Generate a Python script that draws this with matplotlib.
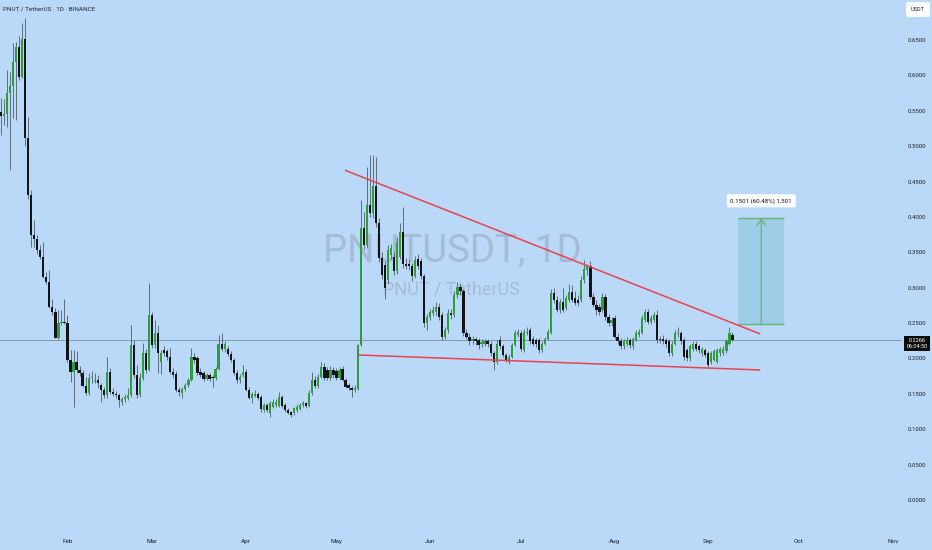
import matplotlib
matplotlib.use('Agg')
import matplotlib.pyplot as plt
import matplotlib.dates as mdates
from matplotlib.ticker import FormatStrFormatter
import numpy as np
import pandas as pd

plt.rcParams['font.family'] = ['Roboto', 'DejaVu Sans']

# ---------------- data ----------------
start_date = '2025-01-10'
opens = [0.548,0.542,0.545,0.575,0.585,0.619,0.640,0.598,0.652,0.512,
         0.431,0.374,0.369,0.353,0.343,0.315,0.308,0.273,0.266,0.229,
         0.250,0.252,0.250,0.198,0.181,0.195,0.184,0.180,0.161,0.151,
         0.172,0.168,0.170,0.162,0.155,0.148,0.181,0.152,0.150,0.148,
         0.138,0.142,0.144,0.148,0.219,0.177,0.148,0.173,0.208,0.184,
         0.261,0.219,0.236,0.195,0.212,0.210,0.202,0.181,0.178,0.155,
         0.151,0.157,0.163,0.170,0.202,0.200,0.181,0.179,0.171,0.176,
         0.174,0.172,0.185,0.220,0.213,0.214,0.206,0.198,0.180,0.170,
         0.176,0.181,0.156,0.144,0.147,0.150,0.146,0.127,0.134,0.123,
         0.132,0.134,0.133,0.146,0.134,0.127,0.124,0.123,0.127,0.129,
         0.134,0.137,0.133,0.151,0.170,0.161,0.174,0.188,0.184,0.172,
         0.184,0.182,0.172,0.185,0.170,0.162,0.158,0.156,0.157,0.219,
         0.384,0.360,0.417,0.405,0.443,0.391,0.342,0.332,0.311,0.346,
         0.344,0.323,0.344,0.379,0.334,0.334,0.330,0.316,0.341,0.337,
         0.316,0.250,0.259,0.264,0.266,0.273,0.261,0.231,0.240,0.264,
         0.261,0.290,0.301,0.295,0.236,0.231,0.224,0.227,0.226,0.220,
         0.220,0.224,0.221,0.207,0.195,0.226,0.217,0.205,0.195,0.202,
         0.219,0.233,0.236,0.212,0.236,0.240,0.228,0.226,0.226,0.212,
         0.221,0.228,0.236,0.292,0.283,0.268,0.280,0.271,0.283,0.294,
         0.285,0.283,0.283,0.311,0.325,0.330,0.287,0.276,0.272,0.268,
         0.287,0.259,0.250,0.257,0.231,0.224,0.217,0.221,0.226,0.217,
         0.226,0.233,0.236,0.254,0.266,0.252,0.254,0.261,0.228,0.228,
         0.226,0.224,0.207,0.221,0.234,0.236,0.226,0.212,0.200,0.214,
         0.221,0.217,0.207,0.212,0.207,0.195,0.198,0.195,0.207,0.208,
         0.210,0.221,0.233]
highs = [0.568,0.566,0.608,0.605,0.646,0.647,0.656,0.674,0.681,0.541,
         0.438,0.396,0.375,0.360,0.365,0.322,0.325,0.284,0.271,0.268,
         0.268,0.284,0.262,0.212,0.212,0.210,0.190,0.183,0.174,0.180,
         0.182,0.180,0.176,0.165,0.160,0.202,0.186,0.158,0.154,0.151,
         0.146,0.150,0.158,0.247,0.226,0.191,0.180,0.222,0.214,0.307,
         0.265,0.254,0.247,0.212,0.218,0.214,0.215,0.186,0.182,0.160,
         0.160,0.166,0.172,0.215,0.208,0.203,0.186,0.182,0.179,0.179,
         0.177,0.188,0.233,0.236,0.225,0.218,0.210,0.201,0.183,0.178,
         0.191,0.185,0.160,0.153,0.155,0.153,0.148,0.137,0.137,0.140,
         0.142,0.143,0.152,0.149,0.137,0.130,0.126,0.132,0.135,0.137,
         0.140,0.139,0.155,0.181,0.175,0.178,0.195,0.193,0.188,0.189,
         0.188,0.186,0.188,0.190,0.173,0.165,0.161,0.162,0.221,0.424,
         0.407,0.470,0.487,0.487,0.485,0.398,0.350,0.338,0.360,0.362,
         0.350,0.372,0.392,0.414,0.342,0.340,0.335,0.345,0.348,0.342,
         0.320,0.263,0.270,0.274,0.280,0.278,0.265,0.245,0.270,0.270,
         0.295,0.308,0.306,0.298,0.242,0.236,0.232,0.230,0.229,0.228,
         0.227,0.228,0.225,0.211,0.226,0.232,0.221,0.208,0.206,0.222,
         0.240,0.242,0.240,0.242,0.245,0.244,0.232,0.229,0.229,0.225,
         0.231,0.241,0.298,0.300,0.288,0.284,0.300,0.290,0.305,0.304,
         0.296,0.290,0.316,0.339,0.334,0.337,0.292,0.282,0.277,0.292,
         0.291,0.263,0.259,0.261,0.236,0.229,0.228,0.230,0.229,0.231,
         0.240,0.242,0.262,0.270,0.270,0.262,0.265,0.268,0.232,0.233,
         0.229,0.227,0.224,0.240,0.245,0.239,0.229,0.215,0.220,0.225,
         0.224,0.220,0.216,0.215,0.210,0.210,0.213,0.215,0.216,0.217,
         0.227,0.245,0.238]
lows = [0.516,0.530,0.527,0.466,0.540,0.537,0.593,0.596,0.500,0.425,
        0.357,0.357,0.347,0.340,0.313,0.305,0.271,0.262,0.229,0.228,
        0.247,0.248,0.195,0.167,0.131,0.180,0.175,0.160,0.148,0.148,
        0.165,0.165,0.158,0.138,0.144,0.144,0.150,0.147,0.144,0.131,
        0.134,0.139,0.141,0.146,0.173,0.144,0.146,0.170,0.180,0.182,
        0.215,0.215,0.180,0.178,0.204,0.198,0.178,0.173,0.152,0.147,
        0.144,0.154,0.160,0.168,0.194,0.177,0.174,0.168,0.169,0.168,
        0.160,0.170,0.183,0.210,0.209,0.204,0.195,0.177,0.166,0.166,
        0.174,0.154,0.142,0.137,0.145,0.141,0.125,0.125,0.124,0.117,
        0.130,0.132,0.131,0.130,0.124,0.121,0.117,0.120,0.125,0.127,
        0.131,0.130,0.131,0.149,0.158,0.158,0.172,0.170,0.169,0.170,
        0.173,0.170,0.170,0.168,0.158,0.155,0.146,0.153,0.155,0.217,
        0.355,0.356,0.400,0.398,0.386,0.336,0.312,0.284,0.305,0.340,
        0.318,0.320,0.340,0.328,0.326,0.325,0.310,0.313,0.326,0.312,
        0.245,0.240,0.255,0.260,0.262,0.255,0.226,0.228,0.236,0.256,
        0.258,0.286,0.290,0.232,0.227,0.219,0.220,0.219,0.214,0.216,
        0.217,0.216,0.204,0.184,0.192,0.214,0.202,0.195,0.192,0.200,
        0.217,0.230,0.210,0.209,0.233,0.221,0.218,0.216,0.208,0.209,
        0.219,0.226,0.234,0.279,0.265,0.264,0.265,0.268,0.280,0.280,
        0.276,0.274,0.280,0.306,0.318,0.284,0.272,0.262,0.262,0.265,
        0.255,0.246,0.246,0.228,0.220,0.213,0.214,0.218,0.215,0.214,
        0.224,0.231,0.234,0.251,0.249,0.249,0.251,0.222,0.222,0.220,
        0.216,0.203,0.204,0.219,0.230,0.220,0.198,0.196,0.197,0.211,
        0.211,0.208,0.204,0.202,0.188,0.192,0.196,0.193,0.204,0.205,
        0.208,0.219,0.224]
closes = [0.542,0.545,0.575,0.585,0.619,0.640,0.598,0.652,0.512,0.431,
          0.374,0.369,0.353,0.343,0.315,0.308,0.273,0.266,0.229,0.250,
          0.252,0.250,0.198,0.181,0.195,0.184,0.180,0.161,0.151,0.172,
          0.174,0.169,0.165,0.155,0.148,0.181,0.152,0.150,0.148,0.141,
          0.143,0.145,0.148,0.219,0.177,0.148,0.173,0.208,0.184,0.261,
          0.219,0.236,0.208,0.208,0.208,0.202,0.181,0.177,0.155,0.152,
          0.157,0.163,0.170,0.202,0.198,0.180,0.177,0.171,0.176,0.171,
          0.172,0.185,0.220,0.213,0.220,0.206,0.198,0.180,0.169,0.174,
          0.181,0.156,0.144,0.150,0.150,0.144,0.128,0.134,0.127,0.137,
          0.139,0.139,0.146,0.133,0.127,0.123,0.120,0.130,0.132,0.134,
          0.137,0.133,0.151,0.170,0.161,0.174,0.188,0.173,0.172,0.184,
          0.176,0.172,0.184,0.170,0.160,0.158,0.155,0.158,0.219,0.384,
          0.360,0.417,0.405,0.443,0.391,0.342,0.318,0.299,0.353,0.356,
          0.323,0.365,0.379,0.334,0.331,0.330,0.316,0.339,0.330,0.316,
          0.250,0.259,0.266,0.268,0.273,0.259,0.231,0.240,0.264,0.262,
          0.290,0.301,0.295,0.236,0.231,0.224,0.227,0.224,0.219,0.223,
          0.224,0.220,0.207,0.195,0.221,0.217,0.205,0.198,0.202,0.219,
          0.236,0.238,0.214,0.238,0.238,0.224,0.221,0.220,0.212,0.221,
          0.228,0.238,0.292,0.283,0.268,0.280,0.268,0.285,0.294,0.283,
          0.278,0.278,0.311,0.327,0.330,0.287,0.276,0.268,0.266,0.287,
          0.259,0.250,0.254,0.231,0.224,0.217,0.224,0.226,0.219,0.228,
          0.236,0.238,0.257,0.266,0.252,0.257,0.261,0.226,0.226,0.224,
          0.221,0.207,0.221,0.236,0.236,0.224,0.202,0.200,0.217,0.221,
          0.214,0.212,0.213,0.205,0.191,0.207,0.210,0.212,0.213,0.214,
          0.224,0.236,0.2266]

last_price = 0.2266
countdown = '06:04:50'
y_ticks = [0.00, 0.05, 0.10, 0.15, 0.20, 0.25, 0.30, 0.35, 0.40, 0.45, 0.50, 0.55, 0.60, 0.65]

upper_line_dates = ['2025-05-03 19:00', '2025-09-18 05:00']
upper_line_prices = [0.466, 0.2346]
lower_line_dates = ['2025-05-08 05:00', '2025-09-18 05:00']
lower_line_prices = [0.2049, 0.1837]

meas_dates = ['2025-09-11 00:00', '2025-09-26 02:00']
meas_prices = [0.2482, 0.3983]
meas_label = '0.1501 (60.48%) 1,501'

title = 'PNUT / TetherUS · 1D · BINANCE'
watermark = 'PNUTUSDT, 1D'
watermark_sub = 'PNUT / TetherUS'

# ---------------- figure ----------------
W, H = 932, 550
BG = '#bad8f8'
GREEN = '#2f9c3c'
BLACK = '#121416'
WICK = '#46525e'
TXT = '#1c2530'

fig = plt.figure(figsize=(W / 100, H / 100), dpi=100)
fig.patch.set_facecolor(BG)
ax = fig.add_axes([0, 20 / H, 902 / W, 530 / H])
ax.set_facecolor(BG)
for s in ax.spines.values():
    s.set_visible(False)

dates = pd.date_range(start_date, periods=len(closes), freq='D')
x = mdates.date2num(dates)
o = np.array(opens); h = np.array(highs); l = np.array(lows); c = np.array(closes)
up = c >= o
cols = np.where(up, GREEN, BLACK)

ax.vlines(x, l, h, colors=WICK, lw=0.55, zorder=3)
bottom = np.minimum(o, c)
height = np.maximum(np.abs(c - o), 0.0013)
ax.bar(x, height, bottom=bottom, width=0.74, color=cols, linewidth=0, zorder=4)

x0 = mdates.date2num(pd.Timestamp(start_date))
ax.set_xlim(x0 - 0.33, x0 + 298.1)
ax.set_ylim(-0.0424, 0.7065)

ax.xaxis.set_major_locator(mdates.MonthLocator())
ax.xaxis.set_major_formatter(mdates.DateFormatter('%b'))
ax.yaxis.tick_right()
ax.set_yticks(y_ticks)
ax.yaxis.set_major_formatter(FormatStrFormatter('%.4f'))
ax.tick_params(axis='y', length=0, pad=4.2, labelsize=4.3, labelcolor=TXT)
ax.tick_params(axis='x', length=0, pad=6.3, labelsize=4.6, labelcolor=TXT)

# watermark
ax.text(0.501, 0.526, watermark, transform=ax.transAxes, ha='center', va='center',
        fontsize=27.5, color='#a6bcd6', zorder=0)
ax.text(0.501, 0.453, watermark_sub, transform=ax.transAxes, ha='center', va='center',
        fontsize=13, color='#a6bcd6', zorder=0)

# last price line
ax.axhline(last_price, color='#7f8fa2', lw=0.6, zorder=2)

# trend lines
ax.plot(mdates.date2num(pd.to_datetime(upper_line_dates)), upper_line_prices,
        color='#e8434f', lw=1.1, zorder=5, solid_capstyle='butt')
ax.plot(mdates.date2num(pd.to_datetime(lower_line_dates)), lower_line_prices,
        color='#e8434f', lw=1.1, zorder=5, solid_capstyle='butt')

# measurement box
mx = mdates.date2num(pd.to_datetime(meas_dates))
ax.fill_between(mx, meas_prices[0], meas_prices[1], color='#9fcce6', lw=0, zorder=1)
ax.hlines(meas_prices, mx[0], mx[1], colors='#63b86c', lw=1.0, zorder=2)
xm = (mx[0] + mx[1]) / 2
ax.annotate('', xy=(xm, meas_prices[1]), xytext=(xm, meas_prices[0]),
            arrowprops=dict(arrowstyle='->,head_length=0.45,head_width=0.3',
                            color='#63b86c', lw=0.9, shrinkA=0, shrinkB=0), zorder=2)
ax.text(xm, meas_prices[1] + 0.0245, meas_label, ha='center', va='center', fontsize=4.4,
        color='#111111', zorder=6,
        bbox=dict(boxstyle='round,pad=0.6,rounding_size=0.25', fc='white', ec='none'))

# header texts
fig.text(3 / W, 1 - 9 / H, title, ha='left', va='center', fontsize=4.6, color='#1f2b38')
fig.text(918 / W, 1 - 9.5 / H, 'USDT', ha='center', va='center', fontsize=4.0, color=TXT,
         bbox=dict(boxstyle='round,pad=0.9,rounding_size=0.35', fc='white', ec='none'))

# last price label
fig.text(917 / W, 1 - 343.5 / H, f'{last_price:.4f}\n{countdown}',
         ha='center', va='center', fontsize=4.0, color='white', linespacing=1.2,
         zorder=7, bbox=dict(boxstyle='square,pad=0.4', fc='#0a0a0a', ec='none'))

fig.savefig('out.png', dpi=100, facecolor=BG)
